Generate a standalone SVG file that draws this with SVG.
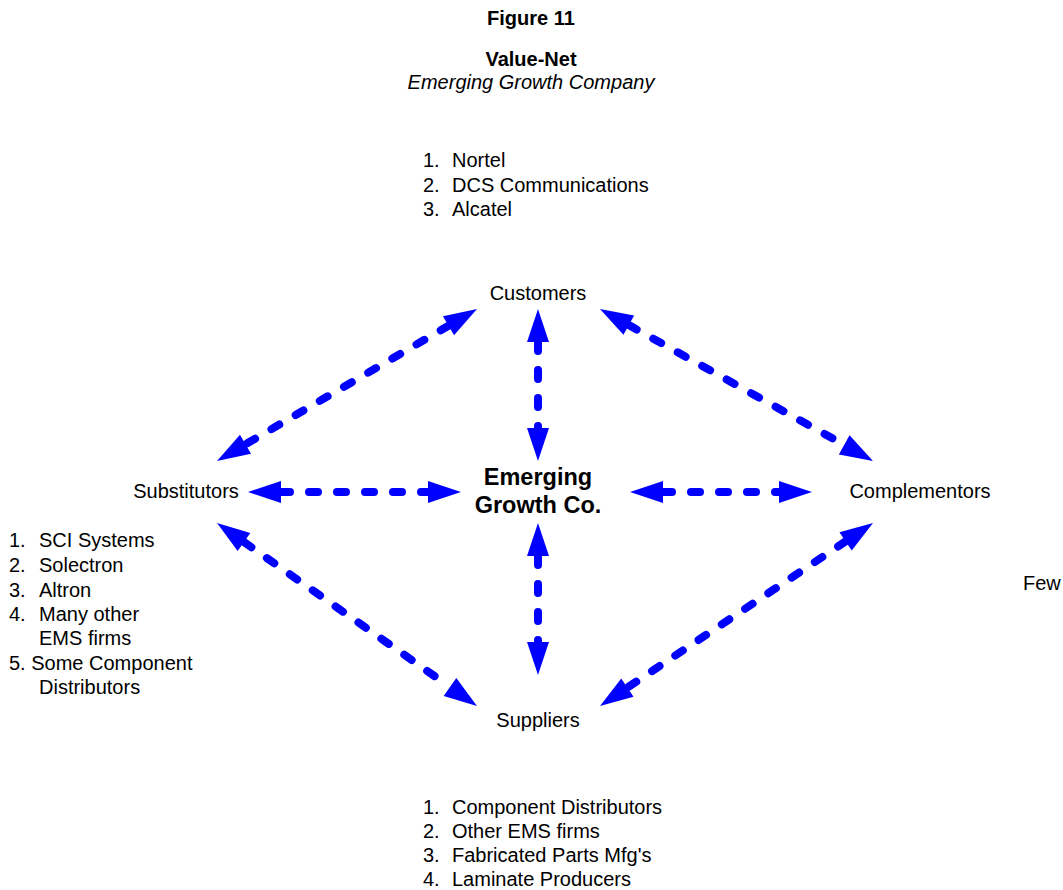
<svg xmlns="http://www.w3.org/2000/svg" width="1063" height="890" viewBox="0 0 1063 890">
<style>
text{font-family:"Liberation Sans",Arial,sans-serif;font-size:20px;fill:#000}
.b{font-weight:bold}
.i{font-style:italic}
.c{text-anchor:middle}
.big{font-size:23.5px;font-weight:bold}
.cn{stroke:#0000FF;stroke-width:8;stroke-dasharray:9 19;stroke-linecap:round;fill:none;marker-start:url(#ah);marker-end:url(#ah)}
</style>
<defs>
<marker id="ah" markerUnits="userSpaceOnUse" markerWidth="34" markerHeight="24" refX="0" refY="11" orient="auto-start-reverse" viewBox="0 0 34 22" overflow="visible">
<path d="M0,0 L33,11 L0,22 z" fill="#0000FF"/>
</marker>
</defs>
<rect width="1063" height="890" fill="#fff"/>
<g id="title">
<text class="b c" x="531" y="25">Figure 11</text>
<text class="b c" x="531" y="66">Value-Net</text>
<text class="i c" x="531" y="89">Emerging Growth Company</text>
</g>
<g id="connectors">
<line class="cn" x1="448.5" y1="325.7" x2="245.5" y2="444.3"/>
<line class="cn" x1="538" y1="342" x2="538" y2="428"/>
<line class="cn" x1="628.8" y1="325.1" x2="844.2" y2="444.9"/>
<line class="cn" x1="281" y1="492" x2="428" y2="492"/>
<line class="cn" x1="663" y1="492" x2="779" y2="492"/>
<line class="cn" x1="244" y1="542" x2="450" y2="687"/>
<line class="cn" x1="538" y1="556" x2="538" y2="642"/>
<line class="cn" x1="845.6" y1="541.4" x2="627.4" y2="687.6"/>
</g>
<g id="customers-list">
<text x="423" y="167">1.</text><text x="452" y="167">Nortel</text>
<text x="423" y="192">2.</text><text x="452" y="192">DCS Communications</text>
<text x="423" y="216">3.</text><text x="452" y="216">Alcatel</text>
</g>
<g id="customers"><text class="c" x="538" y="300">Customers</text></g>
<g id="center">
<text class="big c" x="538" y="485">Emerging</text>
<text class="big c" x="538" y="513">Growth Co.</text>
</g>
<g id="substitutors"><text class="c" x="186" y="498">Substitutors</text></g>
<g id="complementors"><text class="c" x="920" y="498">Complementors</text></g>
<g id="few"><text x="1023" y="590">Few</text></g>
<g id="substitutors-list">
<text x="9" y="547">1.</text><text x="39" y="547">SCI Systems</text>
<text x="9" y="572">2.</text><text x="39" y="572">Solectron</text>
<text x="9" y="597">3.</text><text x="39" y="597">Altron</text>
<text x="9" y="621">4.</text><text x="39" y="621">Many other</text>
<text x="39" y="645">EMS firms</text>
<text x="9" y="670">5. Some Component</text>
<text x="39" y="694">Distributors</text>
</g>
<g id="suppliers"><text class="c" x="538" y="727">Suppliers</text></g>
<g id="suppliers-list">
<text x="423" y="814">1.</text><text x="452" y="814">Component Distributors</text>
<text x="423" y="838">2.</text><text x="452" y="838">Other EMS firms</text>
<text x="423" y="862">3.</text><text x="452" y="862">Fabricated Parts Mfg's</text>
<text x="423" y="886">4.</text><text x="452" y="886">Laminate Producers</text>
</g>
</svg>
